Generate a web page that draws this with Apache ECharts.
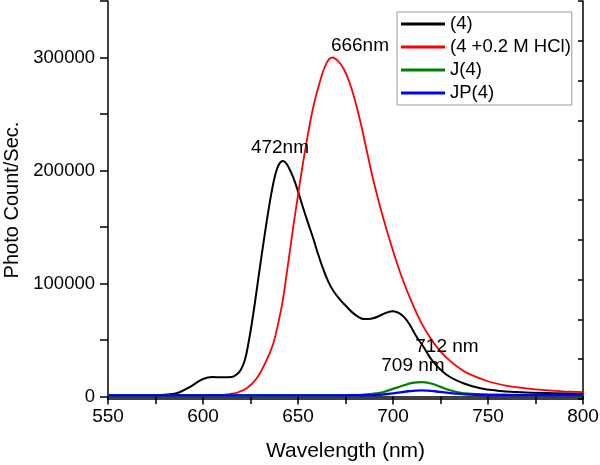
<!DOCTYPE html>
<html>
<head>
<meta charset="utf-8">
<script src="https://cdn.jsdelivr.net/npm/echarts@6/dist/echarts.min.js"></script>
<style>html,body{margin:0;padding:0;background:#fff;}#c{width:600px;height:465px;}</style>
</head>
<body>
<div id="c"></div>
<script>
var FONT = 'Liberation Sans, Arial, sans-serif';

var seriesNames = ['(4)', '(4 +0.2 M HCl)', 'J(4)', 'JP(4)'];
var seriesColors = ['#000000', '#ff0000', '#008000', '#0000ff'];

var blackX = [550,570,580,585,588,593,600,605,610,615,618,620,622,624,626,628,630,632,634,636,638,640,642,643.5,645,647.5,650.3,652.5,655,658,660,663,666,669,672,675,680,685,689,693,697,700,703,706,709,712,716,721,728,737,746,755,765,780,800];
var blackY = [1000,1100,1600,2500,4000,8400,15500,17300,17000,17300,20000,24000,32000,48000,68000,91000,115000,138000,160000,180000,196000,205500,208500,207000,203000,194000,180000,168000,155000,140000,129000,114000,101500,92500,86000,80500,72500,68500,69000,71500,74500,75500,74000,70000,63000,54000,44000,31000,19500,11700,7300,5200,4000,3000,2500];

var redX = [550,580,600,610,614,618,623,628,633,637,640,642,644,646,648,650,652,654.6,658,661.6,665,668,671,674,677,680,683,686,690,695,700,705,710,715,720,725,730,735,740,750,760,770,780,790,800];
var redY = [1200,1200,1300,1500,2200,3500,7300,15500,30500,47000,68000,85000,108000,132000,156000,178000,200000,226000,256000,279000,295000,300000,297000,290000,278500,262000,242000,219000,189000,157000,129000,104000,83000,65000,51000,40000,31500,25000,20000,13500,9500,7200,5600,4600,3800];

var greenX = [550,600,680,690,695,700,705,710,715,720,725,730,735,740,750,800];
var greenY = [1000,1000,1100,2500,4000,6800,9500,12000,12800,11500,8500,5500,3500,2500,1600,1200];

var blueX = [550,600,650,690,700,708,715,722,730,740,760,800];
var blueY = [1000,1000,1000,1300,2800,4600,5400,4700,3000,1800,1300,1200];

var xTickLabels = [550,600,650,700,750,800];
var yTickLabels = [0,100000,200000,300000];
var yAllTicks = [0,50000,100000,150000,200000,250000,300000,350000];

var annotationText = ['472nm','666nm','712 nm','709 nm'];
var annotationX = [640.5,682.6,728.4,710.5];
var annotationY = [219900,310200,43800,27000];

function pairs(xs, ys){ return xs.map(function(x,i){ return [x, ys[i]]; }); }
var allX = [blackX, redX, greenX, blueX];
var allY = [blackY, redY, greenY, blueY];
var widths = [2, 1.8, 2.2, 2.4];

var series = seriesNames.map(function(n,i){
  return {
    name: n, type: 'line', xAxisIndex: 0, yAxisIndex: 0,
    data: pairs(allX[i], allY[i]),
    showSymbol: false, symbol: 'none', smooth: 0.4,
    lineStyle: {color: seriesColors[i], width: widths[i]},
    itemStyle: {color: seriesColors[i]},
    silent: true, animation: false
  };
});
series[0].markPoint = {
  symbol: 'circle', symbolSize: 0, animation: false,
  data: annotationText.map(function(t,i){
    return {coord: [annotationX[i], annotationY[i]], value: t,
      label: {show: true, position: 'inside', formatter: t, color: '#000', fontSize: 19, fontFamily: FONT}};
  })
};

var axisLine = {show: true, lineStyle: {color: '#000', width: 1.5}};
var tickStyle = {color: '#000', width: 1.5};

var option = {
  animation: false,
  backgroundColor: '#fff',
  grid: {left: 108, right: 17, top: 1, bottom: 66, containLabel: false, outerBoundsMode: 'none'},
  legend: {
    orient: 'vertical', left: 397, top: 12,
    data: seriesNames.map(function(n){ return {name: n, icon: 'rect'}; }),
    itemWidth: 44, itemHeight: 3, itemGap: 3,
    padding: [2, 1, 2, 4],
    borderColor: '#999', borderWidth: 1,
    textStyle: {fontSize: 18.5, fontFamily: FONT, color: '#000', lineHeight: 20}
  },
  xAxis: [
    {type: 'value', position: 'bottom', min: 550, max: 800, interval: 50,
     axisLine: axisLine, splitLine: {show: false},
     axisTick: {show: true, inside: false, length: 8, lineStyle: tickStyle},
     minorTick: {show: true, splitNumber: 2, length: 5, lineStyle: tickStyle},
     axisLabel: {show: true, margin: 8, fontSize: 19, fontFamily: FONT, color: '#000',
       customValues: xTickLabels},
     name: 'Wavelength (nm)', nameLocation: 'middle', nameGap: 42,
     nameTextStyle: {fontSize: 21, fontFamily: FONT, color: '#000'}},
    {type: 'value', position: 'top', min: 550, max: 800, interval: 50,
     axisLine: axisLine, splitLine: {show: false},
     axisTick: {show: true, inside: true, length: 5, lineStyle: tickStyle},
     minorTick: {show: true, splitNumber: 2, length: 5, lineStyle: tickStyle},
     axisLabel: {show: false}}
  ],
  yAxis: [
    {type: 'value', position: 'left', min: -2200, max: 350000,
     axisLine: axisLine, splitLine: {show: false},
     axisTick: {show: true, inside: false, length: 8, lineStyle: tickStyle, customValues: yAllTicks},
     axisLabel: {show: true, margin: 13, fontSize: 18.5, fontFamily: FONT, color: '#000', customValues: yTickLabels,
       formatter: function(v){ return String(Math.round(v)); }},
     name: 'Photo Count/Sec.', nameLocation: 'middle', nameRotate: 90, nameGap: 86,
     nameTextStyle: {fontSize: 20, fontFamily: FONT, color: '#000'}},
    {type: 'value', position: 'right', min: 0, max: 10, interval: 1,
     axisLine: axisLine, splitLine: {show: false},
     axisTick: {show: true, inside: true, length: 5, lineStyle: tickStyle},
     axisLabel: {show: false}}
  ],
  series: series
};

var chart = echarts.init(document.getElementById('c'), null, {renderer: 'canvas'});
chart.setOption(option);
</script>
</body>
</html>
